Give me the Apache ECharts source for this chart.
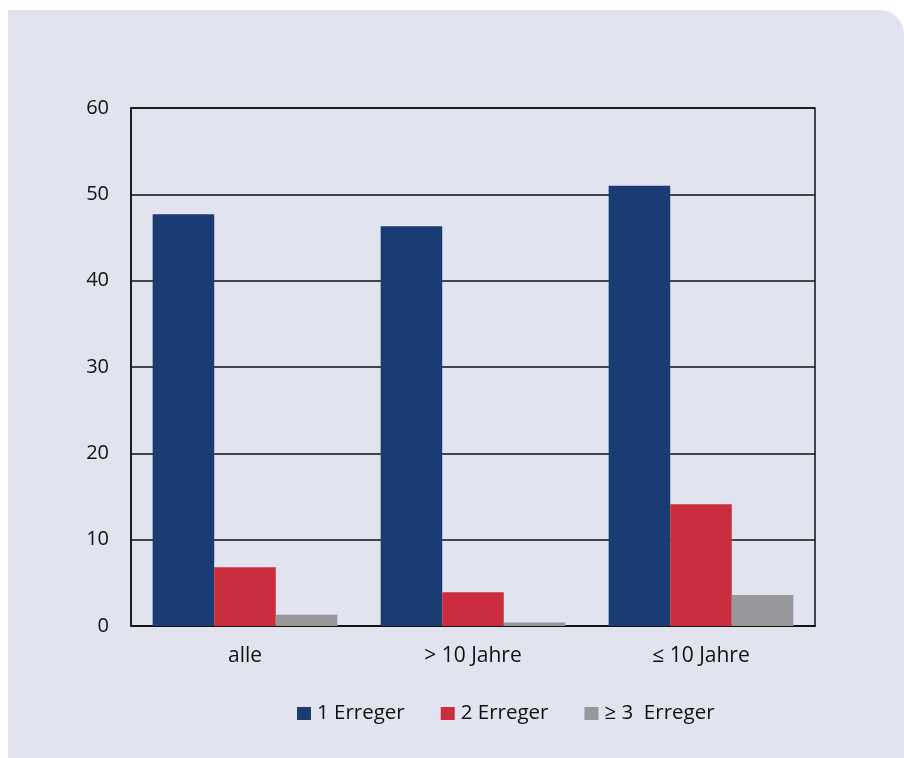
<!DOCTYPE html>
<html><head><meta charset="utf-8">
<script src="https://cdn.jsdelivr.net/npm/echarts@6/dist/echarts.min.js"></script>
<style>
html,body{margin:0;padding:0;background:#fff;width:904px;height:758px;overflow:hidden}
#panel{position:absolute;left:8px;top:10px;width:896px;height:748px;background:#e1e4ee;border-top-right-radius:24px}
#c{position:absolute;left:0;top:0;width:904px;height:758px}
</style></head><body>
<div id="panel"></div>
<div id="c"></div>
<script>
const categories = ['alle', '> 10 Jahre', '≤ 10 Jahre'];
const seriesNames = ['1 Erreger', '2 Erreger', '≥ 3  Erreger'];
const erreger1 = [47.7, 46.3, 51.0];
const erreger2 = [6.8, 3.9, 14.1];
const erreger3 = [1.3, 0.4, 3.6];
const yTicks = [0, 10, 20, 30, 40, 50, 60];
const colors = ['#1b3c72', '#c92d3e', '#98979c'];

const chart = echarts.init(document.getElementById('c'), null, {renderer: 'canvas'});
const font = 'Open Sans';
const values = [erreger1, erreger2, erreger3];
chart.setOption({
  backgroundColor: 'transparent',
  textStyle: {fontFamily: font},
  grid: {left: 131, right: 89, top: 108, bottom: 132, show: true, borderColor: '#111', borderWidth: 1.5, backgroundColor: 'transparent'},
  legend: {
    top: 698, left: 292, itemWidth: 14, itemHeight: 13, itemGap: 36,
    icon: 'rect',
    textStyle: {fontFamily: font, fontSize: 20.5, color: '#111', padding: [0,0,0,1]},
    data: seriesNames
  },
  xAxis: {
    type: 'category', data: categories,
    axisLine: {show: true, lineStyle: {color: '#111', width: 1.5}},
    axisTick: {show: false},
    axisLabel: {fontFamily: font, fontSize: 21, color: '#111', margin: 20}
  },
  yAxis: {
    type: 'value', min: yTicks[0], max: yTicks[yTicks.length-1], interval: 10,
    axisLine: {show: true, lineStyle: {color: '#111', width: 1.5}},
    axisTick: {show: false},
    axisLabel: {fontFamily: font, fontSize: 20, color: '#111', margin: 22},
    splitLine: {show: true, lineStyle: {color: '#111', width: 1.5}}
  },
  series: values.map((v, i) => ({
    name: seriesNames[i], type: 'bar', data: v,
    barGap: '0%', barCategoryGap: '19%',
    itemStyle: {color: colors[i]},
    animation: false
  }))
});
</script>
</body></html>
